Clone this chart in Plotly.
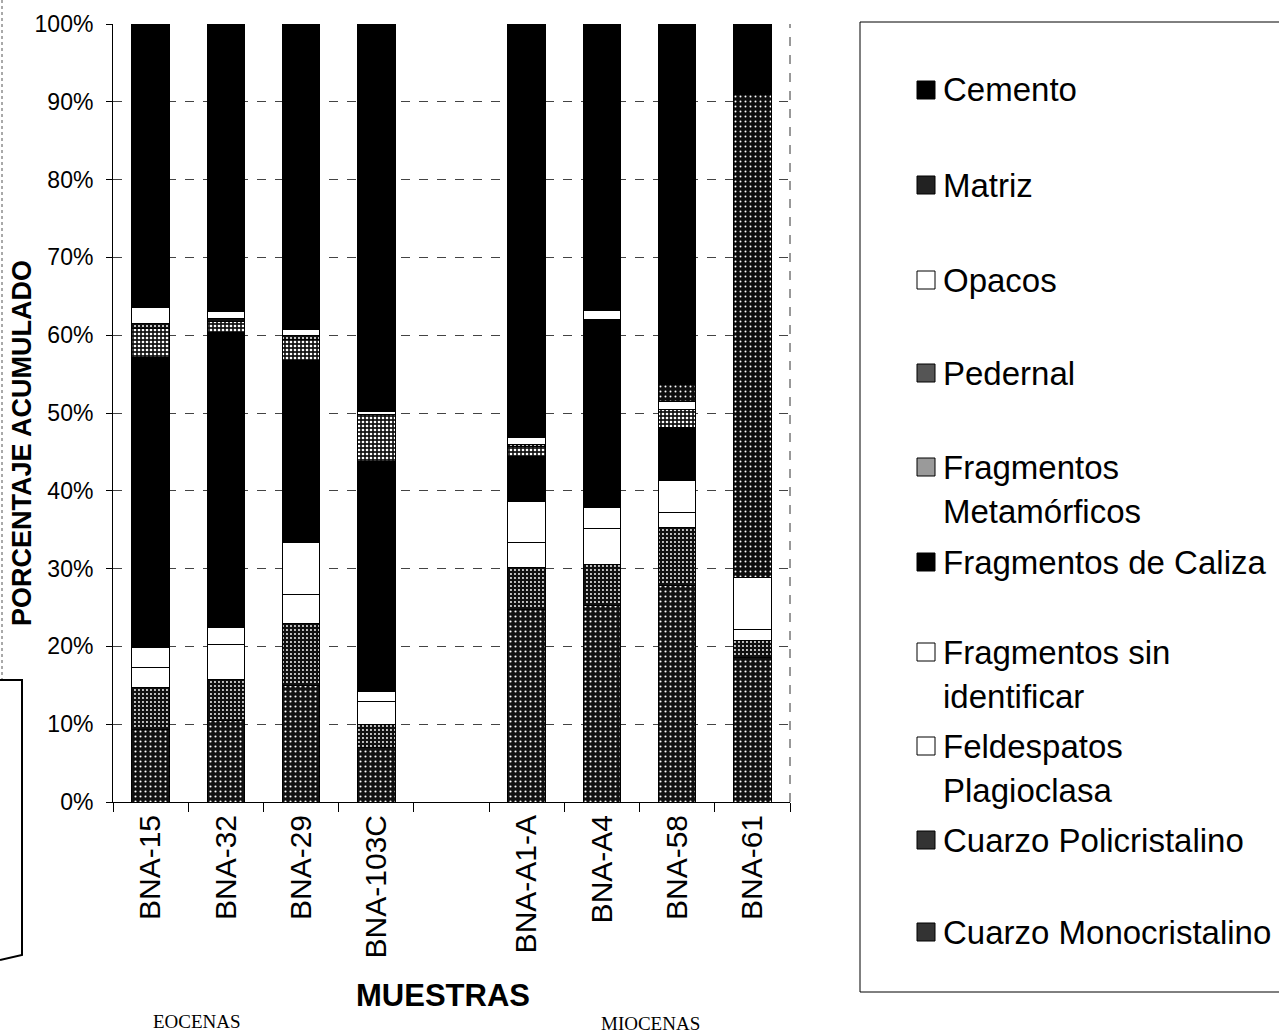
import plotly.graph_objects as go

# Samples (a blank slot separates the Eocene and Miocene groups)
samples = ["BNA-15", "BNA-32", "BNA-29", "BNA-103C", " ",
           "BNA-A1-A", "BNA-A4", "BNA-58", "BNA-61"]

# Percentages of each component, stacked from the bottom up
cuarzo_mono = [9.3, 10.5, 15.0, 7.0, None, 24.7, 25.2, 27.8, 18.6]
cuarzo_poli = [5.4, 5.3, 7.9, 3.0, None, 5.4, 5.3, 7.5, 2.2]
feldespatos = [2.6, 4.4, 3.8, 2.9, None, 3.2, 4.6, 1.9, 1.4]
frag_sin_id = [2.5, 2.2, 6.7, 1.3, None, 5.3, 2.7, 4.1, 6.6]
frag_caliza = [37.3, 37.9, 23.4, 29.6, None, 5.8, 24.2, 6.8, None]
frag_metam = [3.8, 1.4, 2.6, 6.0, None, 1.3, None, 2.4, None]
pedernal = [0.6, 0.5, 0.6, None, None, 0.3, None, None, None]
opacos = [2.0, 0.8, 0.7, 0.4, None, 0.8, 1.2, 1.0, None]
matriz = [None, None, None, None, None, None, None, 2.1, 62.1]
cemento = [36.5, 37.0, 39.3, 49.8, None, 53.2, 36.8, 46.4, 9.1]

y_ticks = [0, 10, 20, 30, 40, 50, 60, 70, 80, 90, 100]
y_tick_labels = ["0%", "10%", "20%", "30%", "40%", "50%",
                 "60%", "70%", "80%", "90%", "100%"]

# name, values, fill, speckle pattern (fg, solidity, size) or None
series = [
    ("Cuarzo Monocristalino", cuarzo_mono, "#101010", ("#ffffff", 0.14, 5)),
    ("Cuarzo Policristalino", cuarzo_poli, "#101010", ("#ffffff", 0.18, 4)),
    ("Feldespatos Plagioclasa", feldespatos, "#ffffff", None),
    ("Fragmentos sin identificar", frag_sin_id, "#ffffff", None),
    ("Fragmentos de Caliza", frag_caliza, "#000000", None),
    ("Fragmentos Metamórficos", frag_metam, "#151515", ("#ffffff", 0.35, 4)),
    ("Pedernal", pedernal, "#101010", ("#ffffff", 0.2, 4)),
    ("Opacos", opacos, "#ffffff", None),
    ("Matriz", matriz, "#0d0d0d", ("#ffffff", 0.12, 5)),
    ("Cemento", cemento, "#000000", None),
]

fig = go.Figure()
for name, vals, fill, pat in series:
    marker = dict(color=fill, line=dict(color="#000000", width=1))
    if pat:
        marker["pattern"] = dict(shape=".", bgcolor=fill, fgcolor=pat[0],
                                 solidity=pat[1], size=pat[2], fillmode="replace")
    fig.add_trace(go.Bar(x=samples, y=vals, name=name, marker=marker,
                         showlegend=False))

W, H = 1279, 1036
L, R, T, B = 113, 790, 24, 802


def px(x):
    return (x - L) / (R - L)


def py(y):
    return (B - y) / (B - T)


shapes = []
# dashed right frame line
shapes.append(dict(type="line", xref="paper", yref="paper", x0=1, x1=1, y0=0, y1=1,
                   line=dict(color="#333333", width=1, dash="dash")))
# legend box
shapes.append(dict(type="rect", xref="paper", yref="paper",
                   x0=px(860), x1=px(1290), y0=py(22), y1=py(992),
                   line=dict(color="#000000", width=1), fillcolor="rgba(0,0,0,0)"))
# page margin box on the far left
shapes.append(dict(type="line", xref="paper", yref="paper", x0=px(2), x1=px(2),
                   y0=py(0), y1=py(680), line=dict(color="#555555", width=1, dash="dot")))
shapes.append(dict(type="path", xref="paper", yref="paper",
                   path=f"M {px(0)},{py(680)} L {px(22)},{py(680)} L {px(22)},{py(955)} L {px(0)},{py(960)}",
                   line=dict(color="#000000", width=2)))

annotations = []
# legend entries: (swatch centre y, lines of text, swatch fill)
legend_rows = [
    (90, ["Cemento"], "#000000"),
    (185, ["Matriz"], "#222222"),
    (280, ["Opacos"], "#ffffff"),
    (373, ["Pedernal"], "#555555"),
    (467, ["Fragmentos", "Metamórficos"], "#9a9a9a"),
    (562, ["Fragmentos de Caliza"], "#000000"),
    (652, ["Fragmentos sin", "identificar"], "#ffffff"),
    (746, ["Feldespatos", "Plagioclasa"], "#ffffff"),
    (840, ["Cuarzo Policristalino"], "#333333"),
    (932, ["Cuarzo Monocristalino"], "#333333"),
]
for yc, lines, sw in legend_rows:
    shapes.append(dict(type="rect", xref="paper", yref="paper",
                       x0=px(917), x1=px(935), y0=py(yc + 9), y1=py(yc - 9),
                       fillcolor=sw, line=dict(color="#000000", width=1)))
    for i, txt in enumerate(lines):
        annotations.append(dict(xref="paper", yref="paper", x=px(941), y=py(yc + 44 * i),
                                text=txt, showarrow=False, xanchor="left", yanchor="middle",
                                font=dict(family="Liberation Sans, Arial", size=33, color="#000000")))

annotations.append(dict(xref="paper", yref="paper", x=px(22), y=py(443),
                        text="<b>PORCENTAJE ACUMULADO</b>", textangle=-90, showarrow=False,
                        xanchor="center", yanchor="middle",
                        font=dict(family="Liberation Sans, Arial", size=27, color="#000000")))
annotations.append(dict(xref="paper", yref="paper", x=px(443), y=py(996),
                        text="<b>MUESTRAS</b>", showarrow=False,
                        xanchor="center", yanchor="middle",
                        font=dict(family="Liberation Sans, Arial", size=31, color="#000000")))
annotations.append(dict(xref="paper", yref="paper", x=px(197), y=py(1022),
                        text="EOCENAS", showarrow=False, xanchor="center", yanchor="middle",
                        font=dict(family="Liberation Serif, Times New Roman", size=19, color="#000000")))
annotations.append(dict(xref="paper", yref="paper", x=px(650), y=py(1023),
                        text="MIOCENAS", showarrow=False, xanchor="center", yanchor="middle",
                        font=dict(family="Liberation Serif, Times New Roman", size=19, color="#000000")))

fig.update_layout(
    width=W, height=H,
    margin=dict(l=L, r=W - R, t=T, b=H - B, autoexpand=False),
    paper_bgcolor="#ffffff", plot_bgcolor="#ffffff",
    barmode="stack", bargap=0.5,
    shapes=shapes, annotations=annotations,
    showlegend=False,
    xaxis=dict(type="category", categoryorder="array", categoryarray=samples,
               tickangle=-90, tickson="boundaries", ticks="outside", ticklen=9,
               tickcolor="#000000", showline=True, linecolor="#000000", linewidth=1,
               showgrid=False,
               tickfont=dict(family="Liberation Sans, Arial", size=30, color="#000000")),
    yaxis=dict(range=[0, 100], tickmode="array", tickvals=y_ticks, ticktext=y_tick_labels,
               ticks="outside", ticklen=6, tickcolor="#000000", ticklabelstandoff=8,
               showline=True, linecolor="#000000", linewidth=1, mirror=False,
               showgrid=True, gridcolor="#444444", gridwidth=1, griddash="dash",
               zeroline=False,
               tickfont=dict(family="Liberation Sans, Arial", size=23, color="#000000")),
)

fig.write_html("out.html")
